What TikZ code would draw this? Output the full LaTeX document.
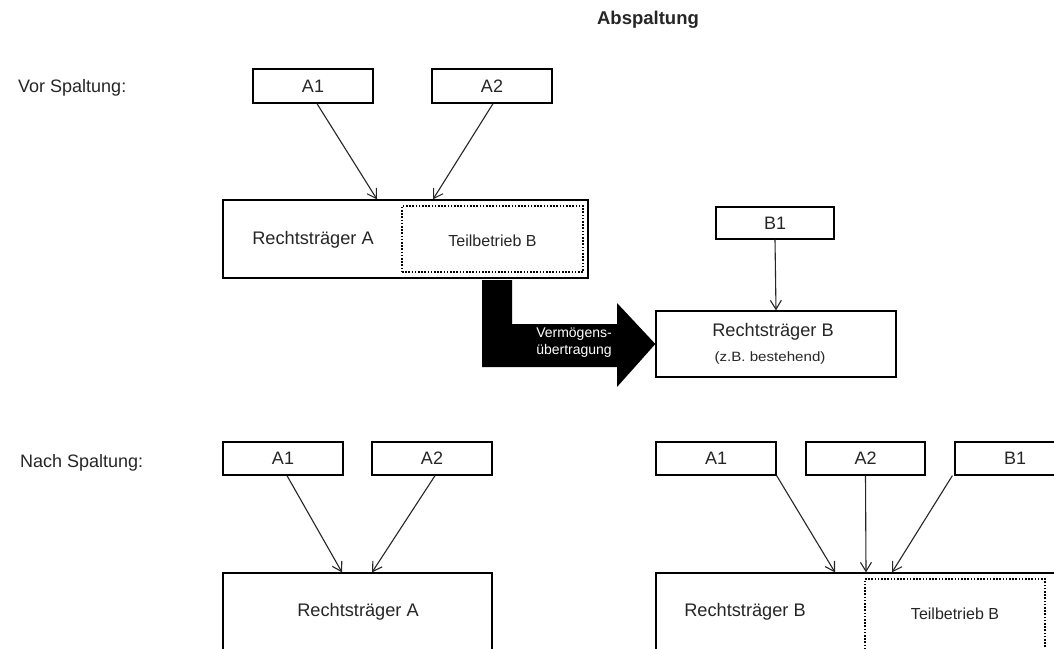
\documentclass[tikz,border=0pt]{standalone}
\usepackage{fontspec}
\usepackage{graphicx}
\setmainfont{Liberation Sans}
\usetikzlibrary{arrows.meta}

\begin{document}
\begin{tikzpicture}[x=1pt,y=-1pt,
  every node/.style={text=black!85},
  entity/.style={draw=black, line width=1.3pt, inner sep=0pt,
    minimum height=34pt, minimum width=120pt,
    font=\fontsize{18}{21}\selectfont},
  holder/.style={draw=black, line width=1.3pt, inner sep=0pt},
  unit/.style={draw=black, line width=1.3pt, dash pattern=on 1.6pt off 1.6pt, inner sep=0pt},
  bigtext/.style={font=\fontsize{18.2}{21}\selectfont},
  smalltext/.style={font=\fontsize{16}{19}\selectfont},
  caption/.style={font=\fontsize{18}{21}\selectfont, anchor=west, inner sep=0pt},
  share/.style={draw=black!85, line width=1.1pt, -{Straight Barb[length=9pt,width=11pt]}}
]
\useasboundingbox (0,0) rectangle (1054,648);
\clip (0,0) rectangle (1054,648);
\fill[white] (0,0) rectangle (1054,648);

% headings
\node[font=\fontsize{18.5}{21}\selectfont\bfseries] (title) at (648,20) {Abspaltung};
\node[caption] (vor) at (18,88) {Vor Spaltung:};
\node[caption] (nach) at (20,463) {Nach Spaltung:};

% ---- before the split ----
\node[entity] (vA1) at (313,86) {A1};
\node[entity] (vA2) at (492,86) {A2};
\node[holder, minimum width=365pt, minimum height=78pt] (vRA) at (405.5,239) {};
\node[bigtext] (vRAt) at (313,240) {Rechtsträger A};
\node[unit, minimum width=181pt, minimum height=66pt] (vTB) at (492.5,239) {};
\node[smalltext] (vTBt) at (492.5,241) {Teilbetrieb B};

\node[entity, minimum width=118pt, minimum height=32pt] (vB1) at (775,223) {B1};
\node[holder, minimum width=240pt, minimum height=66pt] (vRB) at (776,344) {};
\node[bigtext] (vRBt) at (773,332) {Rechtsträger B};
\node[font=\fontsize{13.5}{16}\selectfont] (vRBs) at (770,358)
  {\scalebox{1.12}[1]{(z.B. bestehend)}};

\draw[share] ([xshift=4pt]vA1.south) -- ([xshift=-28.5pt]vRA.north);
\draw[share] ([xshift=1pt]vA2.south) -- ([xshift=27.5pt]vRA.north);
\draw[share] (vB1.south) -- (vRB.north);

% transfer of assets
\coordinate (tA) at (482,280);
\coordinate (tTip) at (vRB.west);
\fill[black] (tA) -- (512,280) -- (512,324) -- (617,324) -- (617,303)
  -- (tTip) -- (617,387) -- (617,367) -- (482,367) -- cycle;
\node[text=white, align=center, font=\fontsize{14}{17}\selectfont] (transfer) at (574,343)
  {Vermögens-\\übertragung};

% ---- after the split ----
\node[entity, minimum height=33pt] (nA1) at (283,458.5) {A1};
\node[entity, minimum height=33pt] (nA2) at (432,458.5) {A2};
\node[holder, minimum width=269pt, minimum height=84pt] (nRA) at (357.5,615) {};
\node[bigtext] (nRAt) at (358,612) {Rechtsträger A};

\node[entity, minimum height=33pt] (mA1) at (716,458.5) {A1};
\node[entity, minimum height=33pt, minimum width=119pt] (mA2) at (865.5,458.5) {A2};
\node[entity, minimum height=33pt] (mB1) at (1015,458.5) {B1};
\node[holder, minimum width=414pt, minimum height=84pt] (mRB) at (863,615) {};
\node[bigtext] (mRBt) at (745,612) {Rechtsträger B};
\node[unit, minimum width=180pt, minimum height=80pt] (mTB) at (955,619) {};
\node[smalltext] (mTBt) at (955,614) {Teilbetrieb B};

\draw[share] ([xshift=4pt]nA1.south) -- ([xshift=-15.5pt]nRA.north);
\draw[share] ([xshift=3pt]nA2.south) -- ([xshift=14.5pt]nRA.north);
\draw[share] (mA1.south east) -- ([xshift=-28pt]mRB.north);
\draw[share] (mA2.south) -- ([xshift=3pt]mRB.north);
\draw[share] ([xshift=-2pt]mB1.south west) -- ([xshift=29pt]mRB.north);
\end{tikzpicture}
\end{document}
